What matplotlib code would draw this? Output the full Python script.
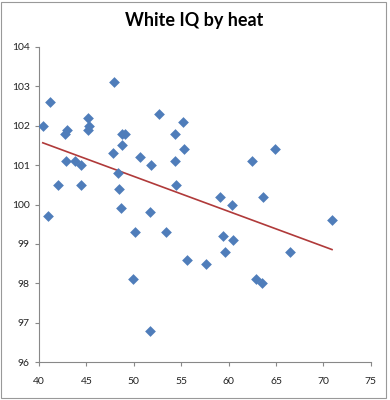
import matplotlib
matplotlib.use("Agg")
import matplotlib.pyplot as plt
from matplotlib.patches import Rectangle
import numpy as np

# heat (x) vs white IQ (y)
heat = [40.4, 41.2, 41.0, 42.0, 42.7, 43.0, 42.9, 43.8, 44.4, 44.4,
        45.2, 45.3, 45.2, 47.9, 47.8, 48.3, 48.4, 48.8, 48.6, 48.8,
        49.1, 49.9, 50.1, 50.7, 51.7, 51.8, 51.7, 52.7, 53.4, 54.3,
        54.3, 54.5, 55.2, 55.3, 55.6, 57.6, 59.1, 59.4, 59.6, 60.4,
        60.5, 62.5, 62.9, 63.5, 63.6, 64.9, 66.5, 70.9]
iq = [102.0, 102.6, 99.7, 100.5, 101.8, 101.9, 101.1, 101.1, 101.0, 100.5,
      102.2, 102.0, 101.9, 103.1, 101.3, 100.8, 100.4, 101.5, 99.9, 101.8,
      101.8, 98.1, 99.3, 101.2, 99.8, 101.0, 96.8, 102.3, 99.3, 101.8,
      101.1, 100.5, 102.1, 101.4, 98.6, 98.5, 100.2, 99.2, 98.8, 100.0,
      99.1, 101.1, 98.1, 98.0, 100.2, 101.4, 98.8, 99.6]
xticks = [40, 45, 50, 55, 60, 65, 70, 75]
yticks = [96, 97, 98, 99, 100, 101, 102, 103, 104]

plt.rcParams['font.family'] = ['Lato', 'DejaVu Sans']

fig = plt.figure(figsize=(3.9, 4.0), dpi=100)
ax = fig.add_axes([0.1, 0.095, 0.851, 0.7875])

ax.scatter(heat, iq, marker='D', s=30, color='#4F7DBA', linewidths=0, zorder=3)

# linear trendline
x = np.array(heat)
slope, icpt = np.polyfit(x, np.array(iq), 1)
xs = np.array([x.min(), x.max()])
ax.plot(xs, slope * xs + icpt, color='#B03A3A', linewidth=1.2, zorder=2)

ax.set_xlim(40, 75)
ax.set_ylim(96, 104)
ax.set_xticks(xticks)
ax.set_yticks(yticks)
ax.tick_params(axis='both', labelsize=7.5, colors='#888888', labelcolor='#222222',
               length=3, width=0.8, direction='out')
ax.tick_params(axis='x', pad=8)
for s in ['top', 'right']:
    ax.spines[s].set_visible(False)
for s in ['left', 'bottom']:
    ax.spines[s].set_color('#888888')
    ax.spines[s].set_linewidth(0.8)

fig.text(0.498, 0.948, 'White IQ by heat', ha='center', va='center',
         fontsize=13, fontweight='bold')

# chart border
fig.patches.append(Rectangle((0.003, 0.004), 0.988, 0.99, transform=fig.transFigure,
                             fill=False, edgecolor='#999999', linewidth=0.8))

fig.savefig('out.png', dpi=100)
